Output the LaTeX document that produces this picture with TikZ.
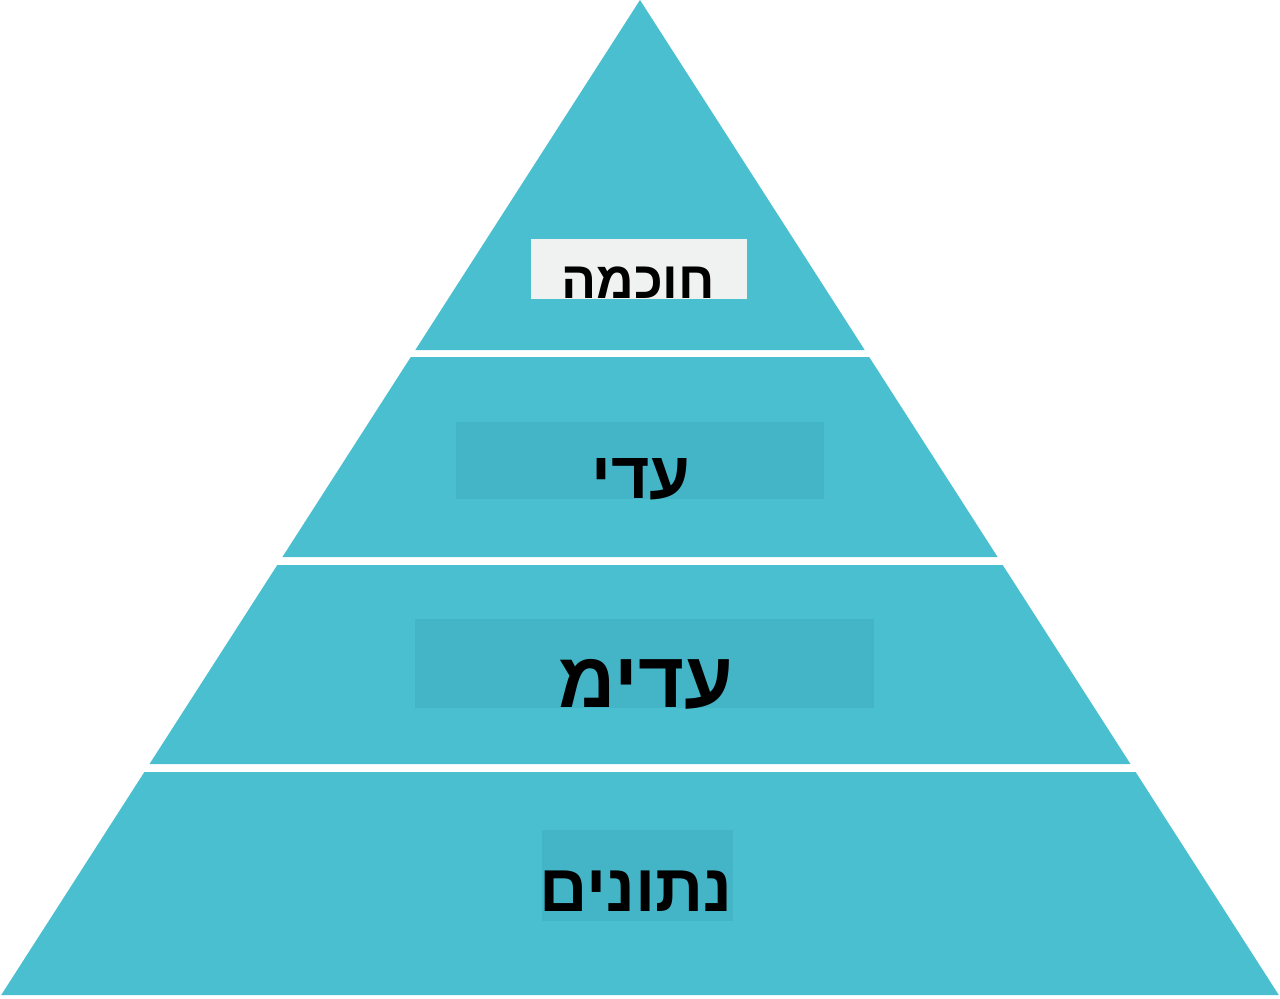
\documentclass[tikz,border=0pt]{standalone}
\usepackage{fontspec}
\usetikzlibrary{positioning}
\newfontfamily\hebfont[Script=Hebrew]{Liberation Sans}
\TeXXeTstate=1
\definecolor{tier}{HTML}{4ABFCF}
\definecolor{tierbox}{HTML}{44B5C6}
\definecolor{topbox}{HTML}{F0F2F2}
\newcommand{\heb}[1]{\hebfont\bfseries\beginR #1\endR}
\tikzset{
  tierfill/.style={fill=tier,draw=none},
  lblbox/.style={fill=tierbox,draw=none,inner sep=0pt},
  lbltext/.style={anchor=base,inner sep=0pt,text=black},
}

\begin{document}
\begin{tikzpicture}[x=0.5pt,y=-0.5pt]
  \useasboundingbox (0,0) rectangle (1280,998);
  % the four tiers of the pyramid
  \foreach \ya/\yb in {0/350,357/557,565/764,772/995}
    \fill[tierfill] ({640-0.642*\ya},\ya) -- ({640+0.642*\ya},\ya)
      -- ({640+0.642*\yb},\yb) -- ({640-0.642*\yb},\yb) -- cycle;
  % label boxes
  \node[lblbox,fill=topbox,minimum width=108pt,minimum height=30pt] (b1) at (639,269) {};
  \node[lblbox,minimum width=184pt,minimum height=38.5pt] (b2) at (640,460.5) {};
  \node[lblbox,minimum width=229.5pt,minimum height=44.5pt] (b3) at (644.5,663.5) {};
  \node[lblbox,minimum width=95.5pt,minimum height=45.5pt] (b4) at (637.5,875.5) {};
  % labels
  \node[lbltext,font=\fontsize{26}{30}\selectfont] (t1) at (638,298) {\heb{חוכמה}};
  \node[lbltext,font=\fontsize{33}{37}\selectfont] (t2) at (641,498) {\heb{עדי}};
  \node[lbltext,font=\fontsize{39.5}{44}\selectfont] (t3) at (646,707) {\heb{עדימ}};
  \node[lbltext,font=\fontsize{33.5}{38}\selectfont] (t4) at (636,911) {\heb{נתונים}};
\end{tikzpicture}
\end{document}
